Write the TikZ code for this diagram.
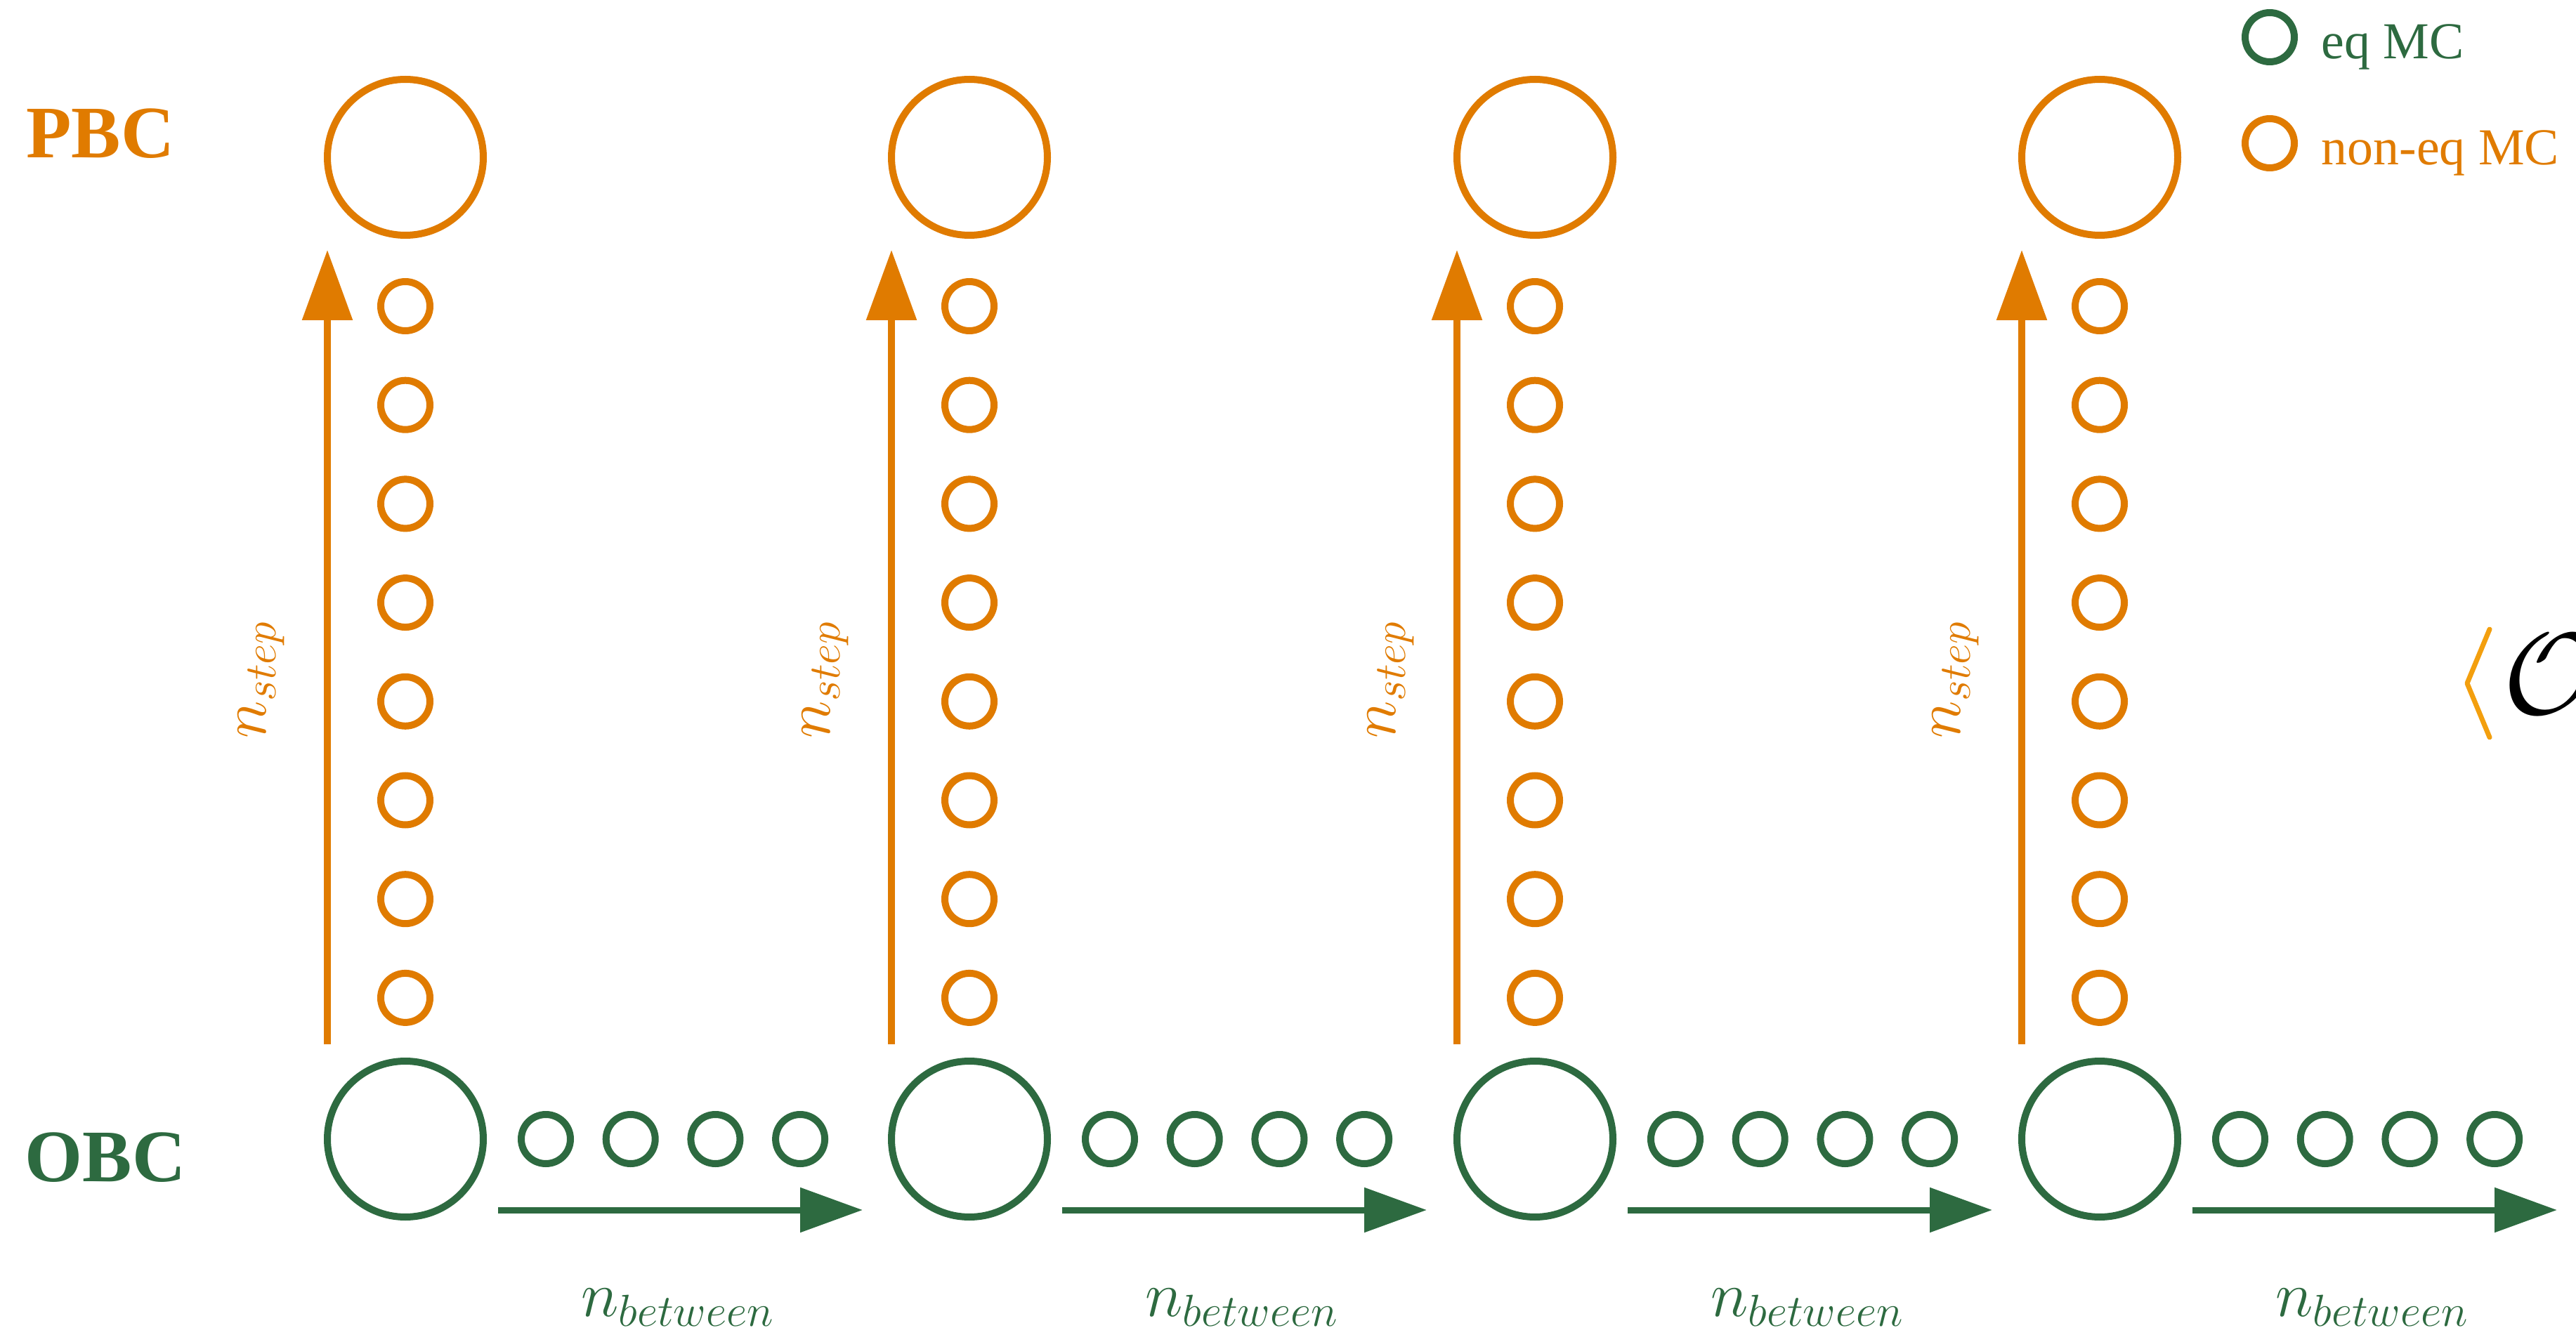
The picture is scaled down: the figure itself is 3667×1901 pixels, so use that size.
\RequirePackage{fix-cm}
\documentclass[tikz,border=0pt]{standalone}
\usepackage{fontspec}
\setmainfont{Liberation Serif}
\usetikzlibrary{arrows.meta}

\definecolor{pbcorange}{RGB}{224,123,0}
\definecolor{obcgreen}{RGB}{45,106,64}
\definecolor{braketorange}{RGB}{243,159,14}

\begin{document}
\begin{tikzpicture}[
    x=0.1mm, y=-0.1mm,
    bigstate/.style={
        circle,
        draw,
        line width=1mm,
        minimum size=22.2mm,
        inner sep=0pt
    },
    smallstate/.style={
        circle,
        draw,
        line width=1mm,
        minimum size=7mm,
        inner sep=0pt
    },
    steparrow/.style={-{Triangle[length=10mm, width=7mm]}, line width=0.93mm, color=pbcorange},
    betweenarrow/.style={-{Triangle[length=8.9mm, width=6.2mm]}, line width=0.9mm, color=obcgreen},
    rowlabel/.style={font=\fontsize{30}{36}\selectfont\bfseries},
    countlabel/.style={font=\fontsize{26}{30}\selectfont},
    legendtext/.style={font=\fontsize{21}{25}\selectfont, anchor=base west, inner sep=0pt}
]

\useasboundingbox (0,0) rectangle (3667,1901);
\clip (0,0) rectangle (3667,1901);

% row labels
\node[rowlabel, text=pbcorange] (pbclabel) at (143,190) {PBC};
\node[rowlabel, text=obcgreen] (obclabel) at (150,1648) {OBC};

% one column per equilibrium configuration
\foreach \c/\x in {1/577, 2/1380, 3/2185, 4/2989} {
    \node[bigstate, draw=pbcorange] (pbc\c) at (\x,224) {};
    \node[bigstate, draw=obcgreen] (obc\c) at (\x,1622) {};
    \foreach \k in {1,...,8}
        \node[smallstate, draw=pbcorange] (neq\c-\k) at (\x,{436+(\k-1)*140.7}) {};
    \foreach \k in {1,...,4}
        \node[smallstate, draw=obcgreen] (eq\c-\k) at ({\x+200+(\k-1)*120.7},1622) {};

    \coordinate (stepstart\c) at (\x-111,1487);
    \coordinate (stepend\c) at (\x-111,356);
    \draw[steparrow] (stepstart\c) -- (stepend\c);
    \node[countlabel, text=pbcorange, rotate=90] (nstep\c) at (\x-205,968) {$n_{step}$};

    \coordinate (betweenstart\c) at (\x+132,1723);
    \coordinate (betweenend\c) at (\x+651,1723);
    \draw[betweenarrow] (betweenstart\c) -- (betweenend\c);
    \node[countlabel, text=obcgreen] (nbetween\c) at (\x+388,1862) {$n_{between}$};
}

% legend
\node[smallstate, draw=obcgreen] (eqkey) at (3231,53) {};
\node[legendtext, text=obcgreen] (eqkeytext) at (3304,84) {eq MC};
\node[smallstate, draw=pbcorange] (neqkey) at (3231,204) {};
\node[legendtext, text=pbcorange] (neqkeytext) at (3304,235) {non-eq MC};

% observable, cut at the right edge
\draw[braketorange, line width=0.7mm, line cap=round, line join=round]
    (3544,896) -- (3512,973) -- (3544,1050);
\node[anchor=west, inner sep=0pt, font=\fontsize{47}{50}\selectfont] (obs) at (3563,960) {$\mathcal{O}$};

\end{tikzpicture}
\end{document}
